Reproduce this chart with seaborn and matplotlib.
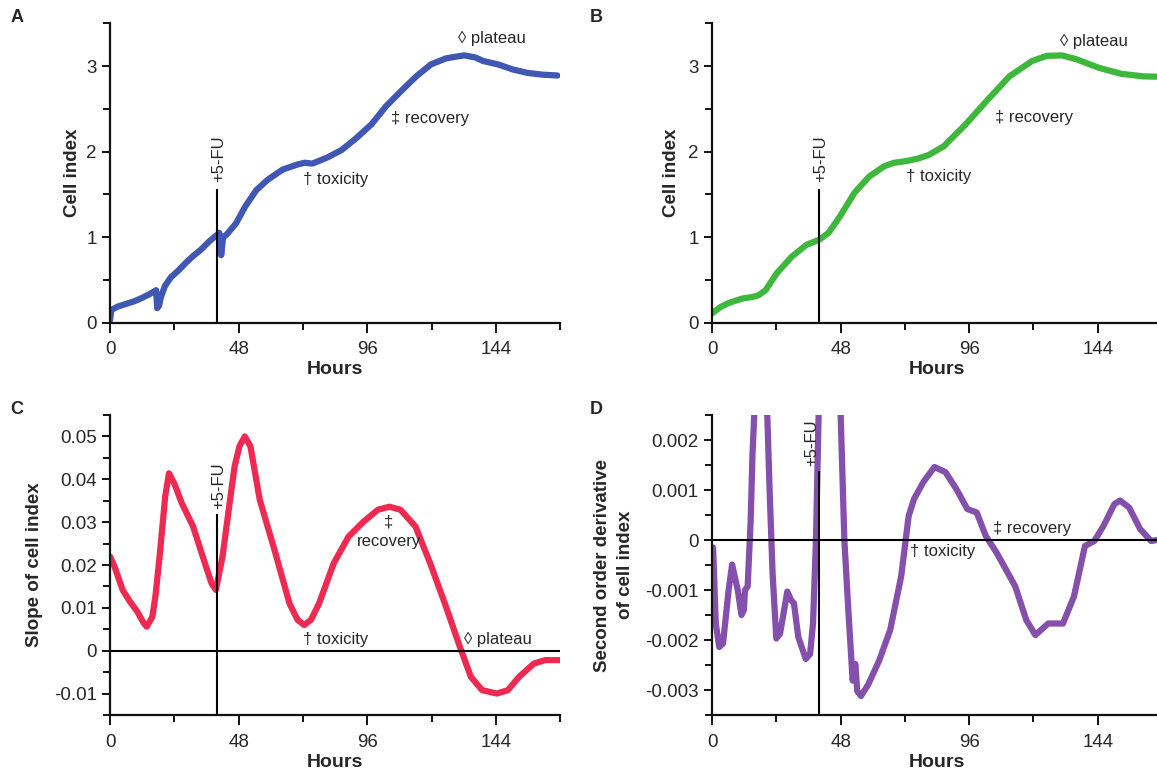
import matplotlib
matplotlib.use("Agg")
import matplotlib.pyplot as plt
import seaborn as sns

# panel A: measured cell index
hours_a = [0, 0.5, 3, 6, 9, 11.6, 14.5, 17.2, 17.6, 18.3, 19.0, 20.5, 22.7, 25.5, 28.3, 31, 33.8,
           37, 40.8, 41.5, 42.2, 43.5, 47, 50.5, 54.6, 58.8, 64.4, 70, 72.7, 75.5, 81, 86.5, 92,
           97.6, 103, 108.7, 114.3, 119.8, 125.4, 129, 132.3, 136.5, 139.2, 144.8, 150.4, 155.9,
           161.4, 167]
cell_index_a = [0.03, 0.15, 0.19, 0.22, 0.25, 0.285, 0.33, 0.38, 0.17, 0.2, 0.3, 0.43, 0.53, 0.61,
                0.7, 0.78, 0.85, 0.95, 1.05, 0.79, 1.0, 1.03, 1.16, 1.36, 1.55, 1.67, 1.79, 1.85,
                1.87, 1.86, 1.93, 2.02, 2.16, 2.32, 2.53, 2.71, 2.88, 3.02, 3.09, 3.11, 3.125, 3.10,
                3.06, 3.02, 2.96, 2.92, 2.90, 2.89]

# panel B: fitted cell index
hours_b = [0, 3, 6.2, 9, 11.7, 15, 17.3, 20, 24.2, 29.7, 35.2, 40, 43.5, 47.7, 53.2, 58.7, 64.3,
           68, 72.6, 77, 80.8, 86.4, 94.7, 103, 111, 119.5, 125, 130.6, 136, 144.4, 152.7, 161, 168]
cell_index_b = [0.11, 0.18, 0.23, 0.26, 0.285, 0.3, 0.32, 0.38, 0.58, 0.77, 0.91, 0.97, 1.05, 1.24,
                1.52, 1.71, 1.83, 1.87, 1.89, 1.92, 1.96, 2.06, 2.32, 2.61, 2.88, 3.06, 3.12,
                3.125, 3.08, 2.98, 2.91, 2.88, 2.875]

# panel C: slope
hours_c = [0, 1.7, 4.7, 7.5, 10.2, 12.5, 13.7, 15.8, 17, 18.5, 20.6, 22, 24, 26.8, 31, 35, 37.9,
           39.5, 42, 44.8, 46.5, 48.3, 50.3, 52.4, 55.9, 61.4, 67, 70, 72.5, 75, 78, 83.5, 89,
           94.6, 100, 104.3, 108.4, 114, 119.5, 125, 130.6, 134.7, 138.9, 144.4, 148.5, 152.7,
           158.2, 162.4, 168]
slope_c = [0.022, 0.0196, 0.0142, 0.0114, 0.0091, 0.0065, 0.0056, 0.0079, 0.013, 0.022, 0.036,
           0.0414, 0.039, 0.0344, 0.029, 0.0212, 0.0157, 0.0142, 0.022, 0.0352, 0.043, 0.0477,
           0.05, 0.0477, 0.0352, 0.0235, 0.011, 0.0072, 0.006, 0.0072, 0.011, 0.0204, 0.0266,
           0.0301, 0.0329, 0.0336, 0.0329, 0.029, 0.0204, 0.011, 0.0009, -0.0061, -0.0092,
           -0.01, -0.0092, -0.0061, -0.003, -0.0022, -0.0022]

# panel D: second order derivative
hours_d = [0, 0.4, 1.4, 2.7, 4.1, 6.2, 7.5, 9.6, 11, 11.9, 12.3, 13.3, 14.4, 15.1, 15.8, 17, 18,
           19.5, 20.6, 21.5, 22.6, 24, 25.4, 28.1, 29.5, 30.6, 32.2, 35, 36.6, 37.7, 38.8, 39.8,
           42, 44, 46, 48, 49.4, 50.8, 52.5, 53.5, 54.2, 55.6, 58.3, 62.4, 66.5, 70.6, 73.4,
           75.4, 78.9, 83, 87.1, 91.2, 95.3, 98.8, 102.2, 106.3, 109.1, 113.2, 117.3, 120.7,
           125.5, 131, 135.1, 139.2, 142.7, 146.1, 150.2, 152.3, 155.7, 159.8, 163.9, 166, 168]
second_deriv_d = [-0.00015, -0.00015, -0.00167, -0.00214, -0.00207, -0.001, -0.00049, -0.001,
                  -0.0015, -0.0014, -0.001, -0.00093, 0.00035, 0.0017, 0.00254, 0.004, 0.0045,
                  0.004, 0.00254, 0.001, -0.00066, -0.00197, -0.00187, -0.00103, -0.0012,
                  -0.00127, -0.00194, -0.00238, -0.00228, -0.00167, 0.0, 0.00254, 0.0055,
                  0.0065, 0.0055, 0.00254, 0.0, -0.00133, -0.00281, -0.00248, -0.00302,
                  -0.00312, -0.00289, -0.00241, -0.0018, -0.00073, 0.00048, 0.00082, 0.00116,
                  0.00146, 0.00136, 0.00102, 0.00062, 0.00055, 0.00008, -0.00026, -0.00053,
                  -0.00093, -0.0016, -0.0019, -0.00167, -0.00167, -0.00113, -0.00012, -0.00002,
                  0.00028, 0.00072, 0.00079, 0.00065, 0.00022, -0.00002, 0.0, 0.0]

fu_hour = 40
x_major = [0, 48, 96, 144]
x_minor = [24, 72, 120, 168]

sns.set_style("ticks")
plt.rcParams['font.family'] = ['Liberation Sans', 'DejaVu Sans']

fig = plt.figure(figsize=(11.57, 7.75), dpi=100)
ax_a = fig.add_axes([0.0951, 0.5836, 0.389, 0.3863])
ax_b = fig.add_axes([0.6154, 0.5836, 0.389, 0.3863])
ax_c = fig.add_axes([0.0951, 0.0774, 0.389, 0.3871])
ax_d = fig.add_axes([0.6154, 0.0774, 0.389, 0.3871])


def style_axes(ax, ylim, yticks, yticklabels, yminor, ylabel, labelpad=4, linespacing=1.2):
    ax.set_xlim(0, 168)
    ax.set_ylim(*ylim)
    ax.set_xticks(x_major)
    ax.set_xticklabels([str(t) for t in x_major])
    ax.set_xticks(x_minor, minor=True)
    ax.set_yticks(yticks)
    ax.set_yticklabels(yticklabels)
    ax.set_yticks(yminor, minor=True)
    sns.despine(ax=ax)
    for s in ["left", "bottom"]:
        ax.spines[s].set_linewidth(1.6)
        ax.spines[s].set_color("#111111")
    ax.tick_params(axis="both", which="major", labelsize=13.5, width=1.4, length=6, color="#111111")
    ax.tick_params(axis="both", which="minor", width=1.4, length=5, color="#111111")
    ax.tick_params(axis="x", which="major", length=7, pad=6.5)
    ax.set_xlabel("Hours", fontsize=14, fontweight="bold", labelpad=2)
    ax.set_ylabel(ylabel, fontsize=13.5, fontweight="bold", labelpad=labelpad,
                  linespacing=linespacing)


lw = 4.5
fs = 12

# A
sns.lineplot(x=hours_a, y=cell_index_a, ax=ax_a, color="#4057B4", linewidth=lw,
             estimator=None, sort=False)
style_axes(ax_a, (0, 3.5), [0, 1, 2, 3], ["0", "1", "2", "3"], [0.5, 1.5, 2.5, 3.5], "Cell index",
           labelpad=4)
ax_a.vlines(fu_hour, 0, 1.56, color="black", lw=1.5)
ax_a.text(fu_hour + 0.5, 1.64, "+5-FU", rotation=90, ha="center", va="bottom", fontsize=fs)
ax_a.text(72, 1.68, "† toxicity", fontsize=fs, va="center")
ax_a.text(105, 2.39, "‡ recovery", fontsize=fs, va="center")
ax_a.text(130, 3.32, "◊ plateau", fontsize=fs, va="center")

# B
sns.lineplot(x=hours_b, y=cell_index_b, ax=ax_b, color="#3DB83C", linewidth=lw,
             estimator=None, sort=False)
style_axes(ax_b, (0, 3.5), [0, 1, 2, 3], ["0", "1", "2", "3"], [0.5, 1.5, 2.5, 3.5], "Cell index",
           labelpad=6)
ax_b.vlines(fu_hour, 0, 1.56, color="black", lw=1.5)
ax_b.text(fu_hour + 0.5, 1.64, "+5-FU", rotation=90, ha="center", va="bottom", fontsize=fs)
ax_b.text(72.4, 1.71, "† toxicity", fontsize=fs, va="center")
ax_b.text(105.6, 2.40, "‡ recovery", fontsize=fs, va="center")
ax_b.text(130, 3.29, "◊ plateau", fontsize=fs, va="center")

# C
sns.lineplot(x=hours_c, y=slope_c, ax=ax_c, color="#EE2A53", linewidth=lw,
             estimator=None, sort=False)
style_axes(ax_c, (-0.015, 0.055), [-0.01, 0, 0.01, 0.02, 0.03, 0.04, 0.05],
           ["-0.01", "0", "0.01", "0.02", "0.03", "0.04", "0.05"],
           [-0.015, -0.005, 0.005, 0.015, 0.025, 0.035, 0.045, 0.055], "Slope of cell index",
           labelpad=8)
ax_c.axhline(0, color="black", lw=1.5)
ax_c.vlines(fu_hour, -0.015, 0.0318, color="black", lw=1.5)
ax_c.text(fu_hour + 0.7, 0.0330, "+5-FU", rotation=90, ha="center", va="bottom", fontsize=fs)
ax_c.text(104, 0.0300, "‡", fontsize=fs, ha="center", va="center")
ax_c.text(104, 0.0255, "recovery", fontsize=fs, ha="center", va="center")
ax_c.text(72, 0.0027, "† toxicity", fontsize=fs, va="center")
ax_c.text(132, 0.0027, "◊ plateau", fontsize=fs, va="center")

# D
sns.lineplot(x=hours_d, y=second_deriv_d, ax=ax_d, color="#8450AC", linewidth=lw,
             estimator=None, sort=False)
style_axes(ax_d, (-0.0035, 0.0025), [-0.003, -0.002, -0.001, 0, 0.001, 0.002],
           ["-0.003", "-0.002", "-0.001", "0", "0.001", "0.002"],
           [-0.0035, -0.0025, -0.0015, -0.0005, 0.0005, 0.0015, 0.0025],
           "Second order derivative\nof cell index", labelpad=8, linespacing=1.45)
ax_d.axhline(0, color="black", lw=1.5)
ax_d.vlines(fu_hour, -0.0035, 0.00138, color="black", lw=1.5)
ax_d.text(fu_hour - 2.6, 0.00148, "+5-FU", rotation=90, ha="center", va="bottom", fontsize=fs)
ax_d.text(74, -0.00022, "† toxicity", fontsize=fs, va="center")
ax_d.text(105, 0.00024, "‡ recovery", fontsize=fs, va="center")

for label, x, y in [("A", 0.009, 0.978), ("B", 0.510, 0.978), ("C", 0.009, 0.471), ("D", 0.510, 0.471)]:
    fig.text(x, y, label, fontsize=13, fontweight="bold", va="center")

fig.savefig("out.png", dpi=100)
